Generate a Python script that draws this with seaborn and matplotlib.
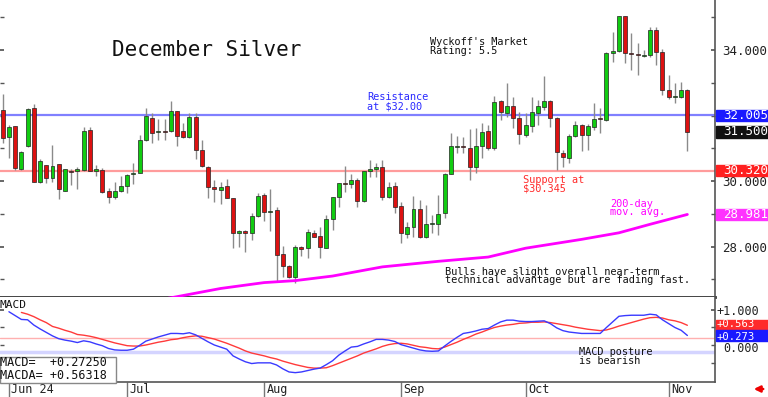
import matplotlib
matplotlib.use("Agg")
import matplotlib.pyplot as plt
from matplotlib.patches import Rectangle
import seaborn as sns
import numpy as np
import pandas as pd

# daily candles, May 31 - Nov 6 2024
opens = [32.17, 31.34, 31.68, 30.37, 31.07, 32.23, 29.97, 30.49, 30.09, 30.52,
         29.70, 30.31, 30.31, 30.34, 31.56, 30.31, 30.34, 29.70, 29.52, 29.70,
         29.85, 30.22, 30.25, 31.25, 31.93, 31.50, 31.53, 31.53, 32.14, 31.53,
         31.35, 31.96, 30.95, 30.43, 29.82, 29.73, 29.85, 29.49, 28.41, 28.48,
         28.41, 28.93, 29.58, 29.05, 29.12, 27.78, 27.41, 27.08, 27.99, 27.96,
         28.41, 28.32, 27.96, 28.85, 29.52, 29.94, 29.91, 30.03, 29.39, 30.31,
         30.37, 30.43, 29.52, 29.85, 29.24, 28.39, 28.60, 29.15, 28.30, 28.69,
         28.69, 29.03, 30.22, 31.04, 31.07, 31.01, 30.43, 31.07, 31.53, 31.01,
         32.44, 32.08, 32.29, 31.93, 31.41, 31.68, 32.08, 32.26, 32.44, 31.93,
         30.86, 30.70, 31.38, 31.71, 31.41, 31.65, 31.93, 31.87, 33.91, 33.97,
         35.04, 33.91, 33.88, 33.82, 33.85, 34.61, 33.94, 32.78, 32.57, 32.57,
         32.78]
highs = [32.66, 31.71, 31.68, 30.92, 32.23, 32.35, 30.67, 30.49, 31.10, 30.52,
         30.37, 30.37, 30.43, 31.65, 31.65, 30.49, 30.40, 29.79, 29.97, 30.16,
         30.22, 30.55, 31.41, 32.23, 32.08, 31.90, 31.90, 32.45, 32.14, 31.77,
         32.08, 32.08, 31.25, 30.46, 30.03, 29.97, 30.06, 29.49, 28.51, 28.51,
         29.02, 29.64, 29.64, 29.76, 29.21, 28.02, 27.44, 28.05, 28.02, 28.54,
         28.51, 28.60, 28.97, 29.52, 29.94, 30.46, 30.22, 30.09, 30.31, 30.64,
         30.55, 30.64, 29.97, 29.97, 29.36, 28.75, 29.55, 29.42, 29.27, 28.97,
         29.58, 30.25, 31.47, 31.38, 31.35, 31.59, 31.62, 31.77, 31.71, 32.60,
         32.47, 32.99, 32.57, 32.11, 32.08, 32.57, 32.47, 33.21, 32.47, 31.96,
         30.95, 31.44, 31.83, 31.74, 31.74, 32.38, 32.23, 33.94, 34.55, 35.04,
         35.04, 34.52, 34.21, 34.00, 34.70, 34.70, 34.03, 33.24, 33.00, 33.03,
         32.81]
lows = [31.16, 30.70, 30.34, 30.34, 31.04, 29.97, 29.94, 29.94, 29.97, 29.45,
        29.70, 29.88, 29.76, 30.31, 30.31, 30.16, 29.64, 29.33, 29.45, 29.67,
        29.64, 29.91, 30.25, 31.22, 31.16, 31.25, 31.25, 31.50, 31.07, 31.32,
        31.32, 30.68, 30.43, 29.49, 29.36, 29.30, 29.49, 27.96, 27.99, 27.84,
        28.20, 28.90, 28.79, 28.48, 26.96, 27.08, 27.05, 26.89, 27.72, 27.66,
        28.29, 27.66, 27.96, 28.51, 29.21, 29.67, 29.79, 29.21, 29.36, 30.13,
        30.13, 29.42, 29.49, 29.03, 28.11, 28.27, 28.30, 28.27, 28.27, 28.41,
        28.36, 28.88, 30.22, 30.86, 30.86, 30.03, 30.25, 30.70, 30.95, 30.95,
        31.86, 31.96, 31.62, 31.13, 31.35, 31.50, 31.71, 32.17, 31.65, 30.34,
        30.43, 30.55, 31.35, 30.92, 30.95, 31.56, 31.47, 31.84, 33.63, 33.94,
        33.60, 33.39, 33.24, 33.79, 33.79, 33.54, 32.63, 32.50, 32.38, 32.54,
        30.92]
closes = [31.31, 31.65, 30.40, 30.89, 32.20, 29.97, 30.61, 30.09, 30.46, 29.76,
          30.37, 30.28, 30.37, 31.53, 30.31, 30.37, 29.67, 29.52, 29.70, 29.85,
          30.19, 30.25, 31.25, 31.99, 31.47, 31.53, 31.50, 32.14, 31.38, 31.35,
          31.96, 30.95, 30.46, 29.82, 29.76, 29.82, 29.49, 28.41, 28.48, 28.41,
          28.93, 29.55, 29.05, 29.08, 27.75, 27.41, 27.08, 27.99, 27.93, 28.45,
          28.29, 27.99, 28.85, 29.52, 29.94, 29.91, 30.03, 29.39, 30.31, 30.37,
          30.43, 29.52, 29.82, 29.21, 28.41, 28.60, 29.15, 28.30, 28.69, 28.72,
          29.00, 30.22, 31.07, 31.07, 31.04, 30.43, 31.07, 31.50, 31.01, 32.41,
          32.11, 32.29, 31.93, 31.44, 31.71, 32.11, 32.29, 32.44, 31.93, 30.89,
          30.74, 31.38, 31.71, 31.41, 31.68, 31.90, 31.90, 33.91, 33.97, 35.04,
          33.91, 33.88, 33.85, 33.85, 34.61, 33.94, 32.78, 32.57, 32.60, 32.78,
          31.50]

# 200-day moving average, read at a few candles (0-based candle index)
ma_idx = [26, 28, 35, 42, 47, 53, 61, 70, 78, 84, 89, 93, 99, 104, 110]
ma_val = [26.40, 26.47, 26.72, 26.90, 26.96, 27.10, 27.38, 27.55, 27.68, 27.95,
          28.10, 28.22, 28.42, 28.68, 28.981]

# MACD and its average (MACDA), ending at the last candle
macd = [0.95, 0.84, 0.73, 0.72, 0.57, 0.46, 0.36, 0.26, 0.18, 0.14,
        0.11, 0.07, 0.12, 0.09, 0.03, -0.02, -0.10, -0.14, -0.15, -0.15,
        -0.12, -0.01, 0.11, 0.17, 0.23, 0.28, 0.33, 0.33, 0.32, 0.35,
        0.29, 0.19, 0.09, 0.00, -0.06, -0.12, -0.31, -0.40, -0.48, -0.53,
        -0.51, -0.51, -0.51, -0.57, -0.68, -0.77, -0.79, -0.77, -0.73, -0.69,
        -0.66, -0.56, -0.45, -0.29, -0.17, -0.06, -0.04, 0.03, 0.09, 0.16,
        0.16, 0.14, 0.10, 0.01, -0.04, -0.09, -0.14, -0.17, -0.18, -0.17,
        -0.03, 0.10, 0.22, 0.33, 0.36, 0.40, 0.45, 0.47, 0.57, 0.66,
        0.71, 0.71, 0.68, 0.67, 0.67, 0.68, 0.69, 0.61, 0.49, 0.41,
        0.37, 0.35, 0.33, 0.33, 0.33, 0.33, 0.50, 0.66, 0.82, 0.84,
        0.85, 0.85, 0.85, 0.88, 0.86, 0.72, 0.61, 0.50, 0.42, 0.27250]
macda = [0.93, 0.88, 0.81, 0.72, 0.64, 0.53, 0.48, 0.42, 0.37, 0.30,
         0.28, 0.25, 0.21, 0.16, 0.11, 0.06, 0.02, -0.02, -0.03, -0.03,
         0.00, 0.04, 0.08, 0.11, 0.15, 0.17, 0.21, 0.24, 0.26, 0.25,
         0.21, 0.17, 0.11, 0.05, -0.02, -0.09, -0.17, -0.23, -0.27, -0.31,
         -0.36, -0.40, -0.46, -0.51, -0.56, -0.60, -0.64, -0.66, -0.66, -0.65,
         -0.59, -0.52, -0.45, -0.38, -0.31, -0.23, -0.17, -0.11, -0.04, 0.01,
         0.04, 0.05, 0.03, -0.01, -0.05, -0.07, -0.10, -0.11, -0.06, 0.01,
         0.08, 0.16, 0.23, 0.31, 0.37, 0.44, 0.50, 0.54, 0.57, 0.59,
         0.62, 0.63, 0.65, 0.65, 0.66, 0.64, 0.61, 0.58, 0.55, 0.51,
         0.48, 0.45, 0.43, 0.41, 0.43, 0.48, 0.54, 0.59, 0.64, 0.69,
         0.74, 0.78, 0.79, 0.77, 0.72, 0.69, 0.64, 0.56318]

resistance = 32.005
support = 30.32
month_labels = ["Jun 24", "Jul", "Aug", "Sep", "Oct", "Nov"]

# trading days
holidays = pd.to_datetime(["2024-06-19", "2024-07-04", "2024-09-02"])
dates = pd.bdate_range("2024-05-31", "2024-11-06")
dates = dates[~dates.isin(holidays)]

opens, highs, lows, closes = map(np.array, (opens, highs, lows, closes))
n = len(closes)
x = np.arange(n)

sns.set_theme(style="white")
plt.rcParams["font.family"] = ["DejaVu Sans Mono", "DejaVu Sans"]

fig = plt.figure(figsize=(7.68, 3.97), dpi=100)
ax = fig.add_axes([0, 100 / 397, 715 / 768, 297 / 397])
ax2 = fig.add_axes([0, 15 / 397, 715 / 768, 85 / 397])

GREEN, RED = "#11cc11", "#dd1111"

# ---- price panel
ax.axhline(resistance, color="#8080ff", lw=1.6, zorder=1)
ax.axhline(support, color="#ff9c9c", lw=1.6, zorder=1)
ax.vlines(x, lows, highs, color="#8a8a8a", lw=1, zorder=2)
up = closes >= opens
body = np.maximum(np.abs(closes - opens), 0.04)
ax.bar(x, body, bottom=np.minimum(opens, closes), width=0.64,
       color=np.where(up, GREEN, RED), edgecolor="#222222", linewidth=0.5, zorder=3)
sns.lineplot(x=ma_idx, y=ma_val, ax=ax, color="#ff00ff", lw=2, zorder=4)

ax.set_xlim(-0.434, 114.44)
ax.set_ylim(26.46, 35.53)
ax.set_xticks([])
ax.yaxis.tick_right()
ax.set_yticks([28, 30, 34])
ax.set_yticklabels([f"{v:.3f}" for v in [28, 30, 34]])
ax.set_yticks(np.arange(27, 36), minor=True)
ax.tick_params(axis="y", which="both", direction="in", length=3, color="#555555",
               left=True, right=True, labelsize=9, pad=5, labelcolor="#222222")
ax.set_ylabel("")
for s in ["top", "left"]:
    ax.spines[s].set_visible(False)
ax.spines["bottom"].set_color("#333333")
ax.spines["bottom"].set_linewidth(2)
ax.spines["right"].set_color("#555555")
ax.spines["right"].set_linewidth(1.2)

ytr = ax.get_yaxis_transform()
box_h = 0.357
for val, col in [(resistance, "#1a1aff"), (closes[-1], "#111111"),
                 (support, "#ff2020"), (ma_val[-1], "#ff33ff")]:
    ax.add_patch(Rectangle((1.0015, val - box_h / 2), 0.072, box_h, transform=ytr,
                           color=col, clip_on=False, zorder=10))
    ax.text(1.0112, val, f"{val:.3f}", transform=ytr, color="white", fontsize=9,
            va="center", ha="left", zorder=11, clip_on=False)

# ---- MACD panel
ax2.axhline(0.19, color="#ffb0b0", lw=1, zorder=1)
ax2.axhline(-0.21, color="#d4d4ff", lw=2.5, zorder=1)
sns.lineplot(x=np.arange(n - len(macd), n), y=macd, ax=ax2, color="#3a3aff", lw=1, zorder=3)
sns.lineplot(x=np.arange(n - len(macda), n), y=macda, ax=ax2, color="#ff3a3a", lw=1, zorder=2)
ax2.set_xlim(-0.434, 114.44)
ax2.set_ylim(-1.057, 1.371)
ax2.yaxis.tick_right()
ax2.set_yticks([1])
ax2.set_yticklabels(["+1.000"])
ax2.set_yticks([-0.5, 0, 0.5], minor=True)
ax2.tick_params(axis="y", which="both", direction="in", length=3, color="#555555",
                left=True, right=True, labelsize=8.5, pad=1, labelcolor="#222222")
ax2.set_ylabel("")

first_days = [np.where(dates.month == m)[0][0] for m in [6, 7, 8, 9, 10, 11]]
ax2.set_xticks(first_days)
ax2.set_xticklabels([])
ax2.tick_params(axis="x", direction="out", length=10.8, width=1, color="#777777", bottom=True)
xtr = ax2.get_xaxis_transform()
for pos, lab in zip(first_days, month_labels):
    ax2.text(pos + 0.4, -0.094, lab, transform=xtr, fontsize=8.5, va="center", ha="left",
             color="#222222", clip_on=False)

ax2.spines["top"].set_visible(False)
ax2.spines["left"].set_visible(False)
for s in ["right", "bottom"]:
    ax2.spines[s].set_color("#555555")
    ax2.spines[s].set_linewidth(1.2)

ytr2 = ax2.get_yaxis_transform()
# zero label sits just under the MACD value box, as in the original
ax2.text(1.0112, -0.09, "0.000", transform=ytr2, fontsize=8.5, va="center", ha="left",
         color="#222222", clip_on=False, zorder=9)
mbox_h = 0.306
for val, col, nudge in [(macda[-1], "#ff2a2a", 0.03), (macd[-1], "#1a1aff", -0.03)]:
    ax2.add_patch(Rectangle((1.0015, val - mbox_h / 2), 0.072, mbox_h, transform=ytr2,
                            color=col, clip_on=False, zorder=10))
    ax2.text(1.002, val + nudge, f"{val:+.3f}", transform=ytr2, color="white", fontsize=7.6,
             va="center", ha="left", zorder=11, clip_on=False)

# ---- annotations
fx = lambda px: px / 768
fy = lambda py: 1 - py / 397
fig.text(fx(207), fy(50), "December Silver", fontsize=15, ha="center", va="center", color="#111111")
fig.text(fx(430), fy(46.7), "Wyckoff's Market\nRating: 5.5", fontsize=7.4, ha="left",
         va="center", linespacing=0.85, color="#111111")
fig.text(fx(367), fy(101.7), "Resistance\nat $32.00", fontsize=7.4, ha="left",
         va="center", linespacing=0.85, color="#2a2aff")
fig.text(fx(523), fy(184), "Support at\n$30.345", fontsize=7.4, ha="left",
         va="center", linespacing=0.85, color="#ff2a2a")
fig.text(fx(610), fy(208), "200-day\nmov. avg.", fontsize=7.4, ha="left",
         va="center", linespacing=0.85, color="#ff00ff")
fig.text(fx(445), fy(276), "Bulls have slight overall near-term\ntechnical advantage but are fading fast.",
         fontsize=7.4, ha="left", va="center", linespacing=0.85, color="#111111")
fig.text(fx(579), fy(356.7), "MACD posture\nis bearish", fontsize=7.4, ha="left",
         va="center", linespacing=0.85, color="#111111")
fig.text(fx(0), fy(305), "MACD", fontsize=8, ha="left", va="center", color="#111111")

fig.patches.append(Rectangle((0, fy(382.7)), fx(115.7), 26 / 397, transform=fig.transFigure,
                             facecolor="white", edgecolor="#888888", lw=1, zorder=5))
fig.text(fx(0), fy(369.3), f"MACD=  {macd[-1]:+.5f}\nMACDA= {macda[-1]:+.5f}", fontsize=8.5,
         ha="left", va="center", linespacing=0.97, color="#111111", zorder=6)

ax2.annotate("", xy=(fx(751), fy(389)), xytext=(fx(766), fy(389)), xycoords="figure fraction",
             textcoords="figure fraction",
             arrowprops=dict(arrowstyle="-|>", color="#ee0000", lw=1.8, mutation_scale=9))

plt.savefig("out.png", dpi=100)
plt.close()
